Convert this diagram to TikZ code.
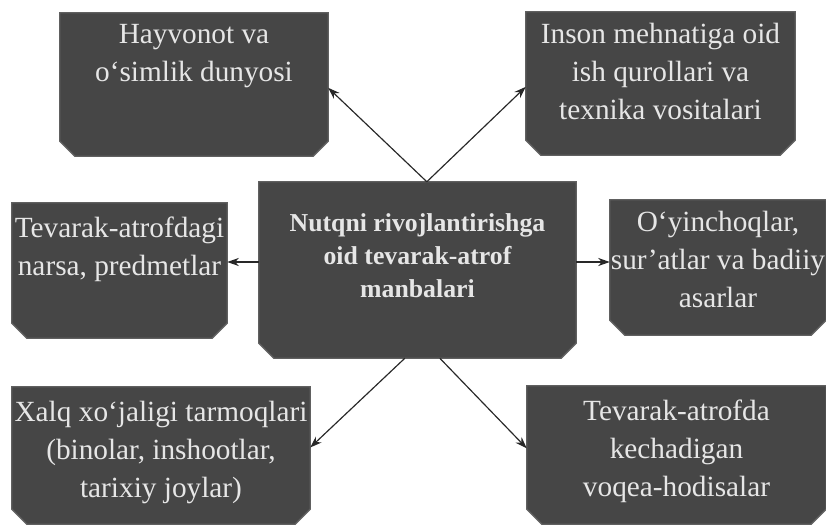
\documentclass[tikz,border=0pt]{standalone}
\usepackage{fontspec}
\setmainfont{Liberation Serif}
\usetikzlibrary{positioning,arrows.meta}

\definecolor{boxgray}{RGB}{70,70,70}
\definecolor{boxedge}{RGB}{96,96,96}
\definecolor{txtgray}{RGB}{230,230,230}
\definecolor{arrgray}{RGB}{40,40,40}

% dark box with cut lower corners, drawn round a named node
\newcommand{\cutbox}[1]{%
	\filldraw[fill=boxgray, draw=boxedge, line width=1.2pt]
		(#1.north west) -- (#1.north east) -- ([yshift=0.45cm]#1.south east)
		-- ([xshift=-0.45cm]#1.south east) -- ([xshift=0.45cm]#1.south west)
		-- ([yshift=0.45cm]#1.south west) -- cycle;}

\begin{document}
\begin{tikzpicture}[x=0.03cm,y=-0.03cm,
	srcbox/.style={rectangle, inner sep=0pt},
	srctext/.style={text=txtgray, align=center, anchor=north, inner sep=0pt,
		font=\fontsize{25}{32.5}\selectfont},
	srcarrow/.style={draw=arrgray, line width=1pt, -{Stealth[length=10pt,width=7pt]}}]
	\useasboundingbox (0,0) rectangle (826,527);
	% boxes
	\node[srcbox, minimum width=8.04cm, minimum height=4.29cm] (hay) at (194,84.5) {};
	\node[srcbox, minimum width=8.07cm, minimum height=4.29cm] (ins) at (660.5,83.5) {};
	\node[srcbox, minimum width=9.51cm, minimum height=5.28cm] (ctr) at (417.5,270) {};
	\node[srcbox, minimum width=6.45cm, minimum height=4.05cm] (tev) at (119.5,270.5) {};
	\node[srcbox, minimum width=6.48cm, minimum height=4.05cm] (oyi) at (718,267.5) {};
	\node[srcbox, minimum width=8.94cm, minimum height=4.11cm] (xal) at (161,455.5) {};
	\node[srcbox, minimum width=8.97cm, minimum height=4.14cm] (voq) at (676.5,455) {};
	\foreach \b in {hay,ins,ctr,tev,oyi,xal,voq} {\cutbox{\b}}
	% texts
	\node[srctext, below=0.33cm of hay.north] (hayt) {Hayvonot va\\o‘simlik dunyosi};
	\node[srctext, below=0.33cm of ins.north] (inst) {Inson mehnatiga oid\\ish qurollari va\\texnika vositalari};
	\node[srctext, below=0.95cm of ctr.north, font=\bfseries\fontsize{22}{28}\selectfont] (ctrt)
		{Nutqni rivojlantirishga\\oid tevarak-atrof\\manbalari};
	\node[srctext, below=0.42cm of tev.north] (tevt) {Tevarak-atrofdagi\\narsa, predmetlar};
	\node[srctext, below=0.33cm of oyi.north] (oyit) {O‘yinchoqlar,\\sur’atlar va badiiy\\asarlar};
	\node[srctext, below=0.42cm of xal.north] (xalt) {Xalq xo‘jaligi tarmoqlari\\(binolar, inshootlar,\\tarixiy joylar)};
	\node[srctext, below=0.42cm of voq.north] (voqt) {Tevarak-atrofda\\kechadigan\\voqea-hodisalar};
	% arrows
	\coordinate (ctop) at ([xshift=0.28cm]ctr.north);
	\coordinate (cbl) at ([xshift=-0.38cm]ctr.south);
	\coordinate (cbr) at ([xshift=0.67cm]ctr.south);
	\draw[srcarrow] (ctop) -- ([yshift=-0.1cm]hay.east);
	\draw[srcarrow] (ctop) -- ([yshift=-0.1cm]ins.west);
	\draw[srcarrow] ([yshift=0.24cm]ctr.west) -- ([yshift=0.24cm]ctr.west -| tev.east);
	\draw[srcarrow] ([yshift=0.24cm]ctr.east) -- ([yshift=0.24cm]ctr.east -| oyi.west);
	\draw[srcarrow] (cbl) -- ([yshift=0.24cm]xal.east);
	\draw[srcarrow] (cbr) -- ([yshift=0.2cm]voq.west);
\end{tikzpicture}
\end{document}
